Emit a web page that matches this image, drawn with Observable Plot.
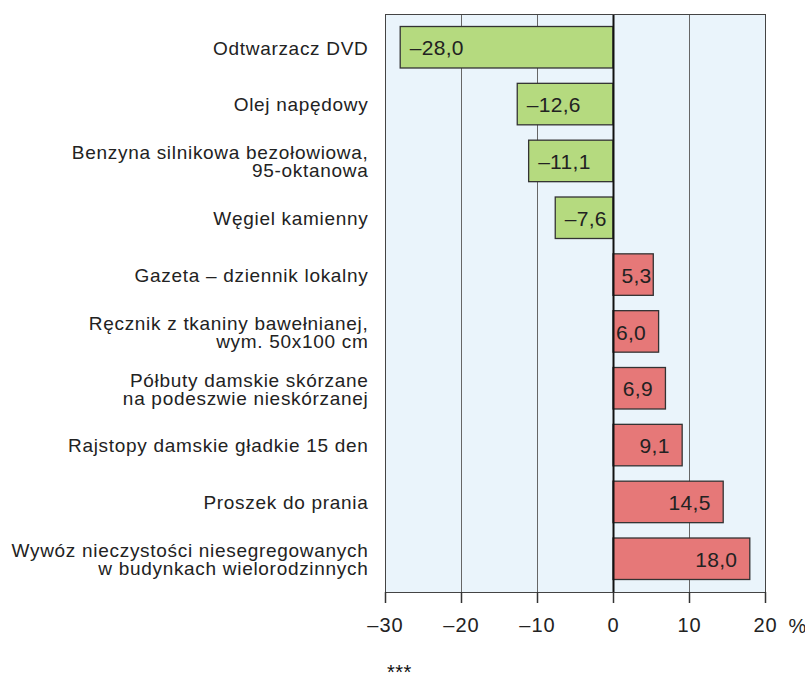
<!DOCTYPE html>
<html><head><meta charset="utf-8">
<script src="https://cdn.jsdelivr.net/npm/d3@7"></script>
<script src="https://cdn.jsdelivr.net/npm/@observablehq/plot@0.6"></script>
<style>
body{margin:0;background:#fff;font-family:"Liberation Sans",Arial,sans-serif;}
#wrap{position:relative;width:805px;height:677px;overflow:hidden;}
#stars{position:absolute;left:387px;top:661px;font-size:20px;color:#111;letter-spacing:0.5px;}
g[aria-label="y-axis tick label"] text{letter-spacing:0.7px;}
g[aria-label="x-axis tick label"] text{letter-spacing:1px;}
g[aria-label="text"] text{letter-spacing:0.3px;}
</style>
</head><body><div id="wrap"><div id="chart"></div><div id="stars">***</div></div>
<script>
const categories = [
  "Odtwarzacz DVD",
  "Olej napędowy",
  "Benzyna silnikowa bezołowiowa,\n95-oktanowa",
  "Węgiel kamienny",
  "Gazeta – dziennik lokalny",
  "Ręcznik z tkaniny bawełnianej,\nwym. 50x100 cm",
  "Półbuty damskie skórzane\nna podeszwie nieskórzanej",
  "Rajstopy damskie gładkie 15 den",
  "Proszek do prania",
  "Wywóz nieczystości niesegregowanych\nw budynkach wielorodzinnych"
];
const values = [-28.0, -12.6, -11.1, -7.6, 5.3, 6.0, 6.9, 9.1, 14.5, 18.0];
const xTicks = [-30, -20, -10, 0, 10, 20];
const gridTicks = [-20, -10, 10];
const unitLabel = "%";

const data = categories.map((c, i) => ({category: c, value: values[i]}));
const neg = data.filter(d => d.value < 0);
const pos = data.filter(d => d.value >= 0);
// labels in short positive bars start near the zero line; others end near the bar tip
const posShort = pos.filter(d => d.value < 5.5);
const posLong = pos.filter(d => d.value >= 5.5);
const dash = "\u2013";
const fmt = v => (v < 0 ? dash : "") + Math.abs(v).toFixed(1).replace(".", ",");

const chart = Plot.plot({
  width: 805, height: 645,
  marginLeft: 385, marginRight: 40, marginTop: 14, marginBottom: 53,
  style: {fontFamily: "'Liberation Sans', Arial, sans-serif", fontSize: "19px", color: "#222", background: "#fff", overflow: "visible"},
  x: {domain: [-30, 20], label: null},
  y: {domain: categories, paddingInner: 0.27, paddingOuter: 0.22, round: false, label: null},
  marks: [
    Plot.frame({fill: "#eaf4fb", stroke: null}),
    Plot.ruleX(gridTicks, {stroke: "#666", strokeWidth: 1}),
    Plot.barX(neg, {x: "value", y: "category", fill: "#b5da7f", stroke: "#333", strokeWidth: 1.3}),
    Plot.barX(pos, {x: "value", y: "category", fill: "#e67878", stroke: "#333", strokeWidth: 1.3}),
    Plot.ruleX([0], {stroke: "#111", strokeWidth: 2}),
    Plot.frame({stroke: "#444", strokeWidth: 1}),
    Plot.text(neg, {x: "value", y: "category", text: d => fmt(d.value), textAnchor: "start", dx: 9, dy: 1, fill: "#222", fontSize: 21}),
    Plot.text(posShort, {x: 0, y: "category", text: d => fmt(d.value), textAnchor: "start", dx: 8, dy: 1, fill: "#222", fontSize: 21}),
    Plot.text(posLong, {x: "value", y: "category", text: d => fmt(d.value), textAnchor: "end", dx: -13, dy: 1, fill: "#222", fontSize: 21}),
    Plot.axisX({ticks: xTicks, tickFormat: t => (t < 0 ? dash : "") + Math.abs(t), tickSize: 11, tickPadding: 14, stroke: "#333", strokeWidth: 1.5, fontSize: 20, fill: "#222"}),
    Plot.axisY({tickSize: 0, tickPadding: 17, lineHeight: 0.95, fontSize: 19, dy: 1, fill: "#222"}),
    Plot.text([unitLabel], {x: 20, frameAnchor: "bottom", dy: 40, dx: 32, fontSize: 20, fill: "#222"})
  ]
});
document.getElementById("chart").appendChild(chart);
</script>
</body></html>
